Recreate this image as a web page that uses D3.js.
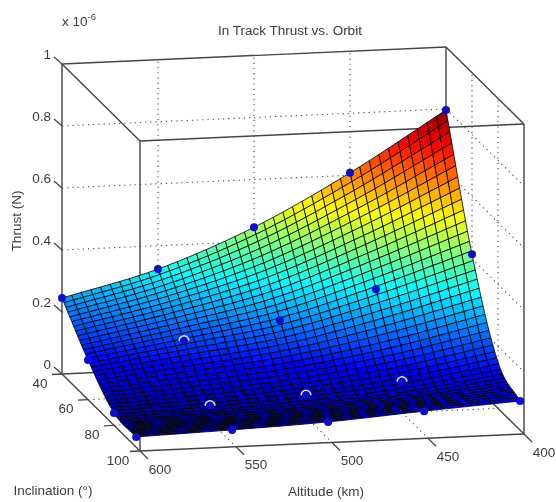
<!DOCTYPE html>
<meta charset="utf-8">
<head>
	<title> In Track Thrust vs. Orbit </title>
	<script src="https://d3js.org/d3.v7.min.js"></script>
	<style>
		html, body { margin: 0; padding: 0; background: #fff; }
		svg { display: block; }
		text { font-family: "Liberation Sans", Arial, sans-serif; font-size: 13.5px; fill: #3c3c3c; }
	</style>
</head>
<body>
	<div id="chart"></div>
	<script>
		// values, thrust in units of 1e-6 N
		var altitudes = [400, 450, 500, 550, 600];
		var inclinations = [40, 60, 80, 97];
		var thrust40 = [0.797, 0.608, 0.446, 0.325, 0.245];
		var thrust60 = [0.414, 0.315, 0.229, 0.177, 0.128];
		var thrust80 = [0.150, 0.100, 0.070, 0.050, 0.040];
		var thrust97 = [0.094, 0.075, 0.054, 0.042, 0.033];
		var thrustRows = [thrust40, thrust60, thrust80, thrust97];

		var altTicks = [600, 550, 500, 450, 400];
		var incTicks = [40, 60, 80, 100];
		var thrustTicks = [0, 0.2, 0.4, 0.6, 0.8, 1];

		var width = 556, height = 502;
		var svg = d3.select("#chart").append("svg")
			.attr("width", width)
			.attr("height", height);

		svg.append("defs").append("filter")
			.attr("id", "soft")
			.append("feGaussianBlur")
			.attr("stdDeviation", 0.55);

		var plot = svg.append("g").attr("filter", "url(#soft)");

		// the 3d box is an oblique view: each axis adds its own pixel offset
		var altX = d3.scaleLinear().domain([600, 400]).range([62, 446]);
		var altY = d3.scaleLinear().domain([600, 400]).range([374, 357]);
		var incX = d3.scaleLinear().domain([40, 100]).range([0, 78]);
		var incY = d3.scaleLinear().domain([40, 100]).range([0, 77]);
		var zY = d3.scaleLinear().domain([0, 1]).range([0, -310]);

		function project(alt, inc, z) {
			return [altX(alt) + incX(inc), altY(alt) + incY(inc) + zY(z)];
		}

		var line3d = d3.line();
		function seg(g, a, b) {
			g.append("path")
				.attr("d", line3d([project(a[0], a[1], a[2]), project(b[0], b[1], b[2])]));
		}

		var back = plot.append("g");

		// dotted grid on floor, back wall and right wall
		var grid = back.append("g")
			.attr("fill", "none")
			.attr("stroke", "#444")
			.attr("stroke-width", 1.1)
			.attr("stroke-dasharray", "1.2,4");
		altTicks.slice(1, 4).forEach(function(a) {
			seg(grid, [a, 40, 0], [a, 40, 1]);
			seg(grid, [a, 40, 0], [a, 100, 0]);
		});
		incTicks.slice(1, 3).forEach(function(i) {
			seg(grid, [400, i, 0], [400, i, 1]);
			seg(grid, [600, i, 0], [400, i, 0]);
		});
		thrustTicks.slice(1, 5).forEach(function(t) {
			seg(grid, [600, 40, t], [400, 40, t]);
			seg(grid, [400, 40, t], [400, 100, t]);
		});

		// box edges, painted before the surface so the surface hides them
		var box = back.append("g")
			.attr("fill", "none")
			.attr("stroke", "#444")
			.attr("stroke-width", 1.4);
		[[600, 40], [600, 100], [400, 40], [400, 100]].forEach(function(c) {
			seg(box, [c[0], c[1], 0], [c[0], c[1], 1]);
		});
		[0, 1].forEach(function(t) {
			seg(box, [600, 40, t], [400, 40, t]);
			seg(box, [600, 100, t], [400, 100, t]);
			seg(box, [600, 40, t], [600, 100, t]);
			seg(box, [400, 40, t], [400, 100, t]);
		});

		// tick marks
		var ticks = back.append("g")
			.attr("stroke", "#444")
			.attr("stroke-width", 1.3);
		thrustTicks.forEach(function(t) {
			var p = project(600, 40, t);
			ticks.append("line").attr("x1", p[0]).attr("y1", p[1]).attr("x2", p[0] - 8).attr("y2", p[1] - 7);
		});
		incTicks.forEach(function(i) {
			var p = project(600, i, 0);
			ticks.append("line").attr("x1", p[0]).attr("y1", p[1]).attr("x2", p[0] - 10).attr("y2", p[1] + 0.5);
		});
		altTicks.forEach(function(a) {
			var p = project(a, 100, 0);
			ticks.append("line").attr("x1", p[0]).attr("y1", p[1]).attr("x2", p[0] + 8).attr("y2", p[1] + 8);
		});

		// surface mesh: cells between the read values are only a drawing
		// subdivision of the table above, as the plot's own mesh was
		function smooth(p, t) {
			var n = p.length - 1;
			var i = Math.min(Math.floor(t), n - 1);
			var f = t - i;
			var chord = p[i + 1] - p[i];
			// end tangents follow the chord so the outer cells stay straight
			var m1 = i > 0 ? 0.5 * (p[i + 1] - p[i - 1]) : chord;
			var m2 = i < n - 1 ? 0.5 * (p[i + 2] - p[i]) : chord;
			var f2 = f * f, f3 = f2 * f;
			return (2 * f3 - 3 * f2 + 1) * p[i] + (f3 - 2 * f2 + f) * m1 + (3 * f2 - 2 * f3) * p[i + 1] + (f3 - f2) * m2;
		}
		var altIndex = d3.scaleLinear().domain(altitudes).range(d3.range(altitudes.length));
		var incIndex = d3.scaleLinear().domain(inclinations).range(d3.range(inclinations.length));
		function surfaceZ(alt, inc) {
			var u = altIndex(alt);
			var column = thrustRows.map(function(r) { return smooth(r, u); });
			return smooth(column, incIndex(inc));
		}

		var altSteps = d3.range(0, 41).map(function(k) { return 400 + k * 5; });
		var incSteps = d3.range(0, 39).map(function(k) { return 40 + k * 57 / 38; });

		var cells = [];
		incSteps.slice(0, -1).forEach(function(inc, r) {
			altSteps.slice(0, -1).forEach(function(alt, c) {
				var inc2 = incSteps[r + 1], alt2 = altSteps[c + 1];
				var zs = [surfaceZ(alt, inc), surfaceZ(alt2, inc), surfaceZ(alt2, inc2), surfaceZ(alt, inc2)];
				cells.push({
					z: d3.mean(zs),
					pts: [project(alt, inc, zs[0]), project(alt2, inc, zs[1]), project(alt2, inc2, zs[2]), project(alt, inc2, zs[3])]
				});
			});
		});

		// matlab jet
		var zMin = d3.min(thrustRows, function(r) { return d3.min(r); });
		var zMax = d3.max(thrustRows, function(r) { return d3.max(r); });
		var jet = d3.scaleLinear()
			.domain([0, 0.125, 0.375, 0.625, 0.875, 1].map(function(f) { return zMin + f * (zMax - zMin); }))
			.range(["#00008f", "#0000ff", "#00ffff", "#ffff00", "#ff0000", "#800000"]);

		plot.append("g").selectAll("path")
			.data(cells)
			.enter()
			.append("path")
			.attr("d", function(d) { return line3d(d.pts) + "Z"; })
			.attr("fill", function(d) { return jet(d.z); })
			.attr("stroke", "#000")
			.attr("stroke-opacity", 0.9)
			.attr("stroke-width", 0.9);

		// measured points: four sit just under the surface and only show a rim
		var points = [];
		thrustRows.forEach(function(row, r) {
			row.forEach(function(v, c) {
				var a = altitudes[c], i = inclinations[r];
				var under = (i == 80 && a > 400 && a < 600) || (i == 60 && a == 550);
				var hidden = (i == 80 && a == 400);
				if (!hidden) points.push({p: project(a, i, v), under: under});
			});
		});

		var rim = d3.arc().innerRadius(4).outerRadius(5.6).startAngle(-1.6).endAngle(1.6);
		plot.append("g").selectAll("circle")
			.data(points)
			.enter()
			.append("circle")
			.attr("cx", function(d) { return d.p[0]; })
			.attr("cy", function(d) { return d.p[1]; })
			.attr("r", function(d) { return d.under ? 3.6 : 4; })
			.attr("fill", "#0a0ad2");
		plot.append("g").selectAll("path")
			.data(points.filter(function(d) { return d.under; }))
			.enter()
			.append("path")
			.attr("d", rim())
			.attr("transform", function(d) { return "translate(" + d.p[0] + "," + d.p[1] + ")"; })
			.attr("fill", "#e4e4fa");

		// text
		function label(x, y, s, anchor) {
			return svg.append("text")
				.attr("x", x).attr("y", y)
				.attr("text-anchor", anchor || "middle")
				.attr("dominant-baseline", "middle")
				.attr("filter", "url(#soft)")
				.text(s);
		}
		label(290, 31, "In Track Thrust vs. Orbit");
		thrustTicks.forEach(function(t) {
			var p = project(600, 40, t);
			label(p[0] - 11, p[1] - 9, d3.format("")(t), "end");
		});
		incTicks.forEach(function(i) {
			var p = project(600, i, 0);
			label(p[0] - 22, p[1] + 10, i);
		});
		altTicks.forEach(function(a) {
			var p = project(a, 100, 0);
			label(p[0] + 20, p[1] + 19, a);
		});
		label(53, 491, "Inclination (\u00b0)");
		label(326, 492, "Altitude (km)");
		label(17, 221, "Thrust (N)").attr("transform", "rotate(-90,17,221)");

		var expo = label(62, 22, "x 10", "start");
		expo.append("tspan").attr("dy", -5).attr("font-size", 9.5).text("-6");
	</script>
</body>
</html>
